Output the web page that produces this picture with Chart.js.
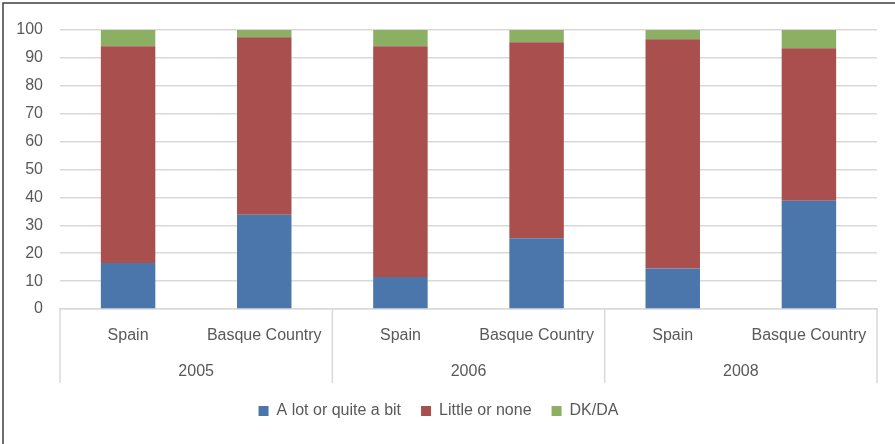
<!DOCTYPE html>
<html>
<head>
<meta charset="utf-8">
<script src="https://cdn.jsdelivr.net/npm/chart.js@4/dist/chart.umd.min.js"></script>
<style>
  html, body { margin: 0; padding: 0; background: #ffffff; }
  #wrap { position: relative; width: 895px; height: 444px; }
  canvas { display: block; }
</style>
</head>
<body>
<div id="wrap"><canvas id="c" width="895" height="444"></canvas></div>
<script>
// ---- data ----
const countries = ["Spain", "Basque Country", "Spain", "Basque Country", "Spain", "Basque Country"];
const years = ["2005", "2006", "2008"];
const aLotOrQuiteABit = [16.5, 33.8, 11.5, 25.4, 14.5, 38.8];
const littleOrNone   = [77.7, 63.6, 82.7, 70.2, 82.2, 54.7];
const dkDa           = [5.8, 2.6, 5.8, 4.4, 3.3, 6.5];
const yTicks = [0, 10, 20, 30, 40, 50, 60, 70, 80, 90, 100];

const FONT = "'Liberation Sans', Arial, sans-serif";
const FS = 16;
const TXT = '#595959';
const GRID = '#d9d9d9';

const frame = {
  id: 'frame',
  afterDraw(chart) {
    const ctx = chart.ctx;
    const area = chart.chartArea;
    const x = chart.scales.x;
    const x2 = chart.scales.x2;
    ctx.save();
    ctx.strokeStyle = GRID;
    ctx.lineWidth = 1.5;
    const n = countries.length;
    const bounds = [area.left];
    for (let g = 2; g < n; g += 2) {
      bounds.push((x.getPixelForValue(g - 1) + x.getPixelForValue(g)) / 2);
    }
    bounds.push(area.right);
    bounds.forEach(bx => {
      ctx.beginPath();
      ctx.moveTo(bx, area.bottom);
      ctx.lineTo(bx, x2.bottom);
      ctx.stroke();
    });
    ctx.strokeStyle = '#3f3f3f';
    ctx.lineWidth = 1.5;
    ctx.beginPath();
    ctx.moveTo(3, chart.height);
    ctx.lineTo(3, 3);
    ctx.lineTo(chart.width, 3);
    ctx.stroke();
    ctx.restore();
  }
};

new Chart(document.getElementById('c'), {
  type: 'bar',
  data: {
    labels: countries,
    datasets: [
      { label: 'A lot or quite a bit', data: aLotOrQuiteABit, backgroundColor: '#4a76ab' },
      { label: 'Little or none', data: littleOrNone, backgroundColor: '#a9504f' },
      { label: 'DK/DA', data: dkDa, backgroundColor: '#8bb063' }
    ]
  },
  options: {
    responsive: false,
    animation: false,
    devicePixelRatio: 1,
    datasets: { bar: { barPercentage: 0.4, categoryPercentage: 1.0 } },
    layout: { padding: { left: 0, right: 18, top: 30, bottom: 15 } },
    plugins: {
      tooltip: { enabled: false },
      legend: {
        position: 'bottom',
        labels: {
          boxWidth: 10, boxHeight: 10, padding: 20,
          color: TXT, font: { family: FONT, size: FS }
        }
      }
    },
    scales: {
      y: {
        stacked: true,
        min: 0, max: 100,
        afterBuildTicks(s) { s.ticks = yTicks.map(v => ({ value: v })); },
        afterFit(s) { s.width = 60; },
        grid: { color: GRID, lineWidth: 1.5, drawTicks: false },
        border: { display: false },
        ticks: { color: TXT, padding: 17, font: { family: FONT, size: FS } }
      },
      x: {
        stacked: true,
        afterFit(s) { s.height = 42; },
        grid: { display: false, drawTicks: false },
        border: { display: true, color: GRID, width: 1.5 },
        ticks: { color: TXT, padding: 17, maxRotation: 0, autoSkip: false, font: { family: FONT, size: FS } }
      },
      x2: {
        type: 'category',
        position: 'bottom',
        labels: years,
        offset: true,
        afterFit(s) { s.height = 32; },
        grid: { display: false, drawTicks: false },
        border: { display: false },
        ticks: { color: TXT, padding: 11, maxRotation: 0, font: { family: FONT, size: FS } }
      }
    }
  },
  plugins: [frame]
});
</script>
</body>
</html>
